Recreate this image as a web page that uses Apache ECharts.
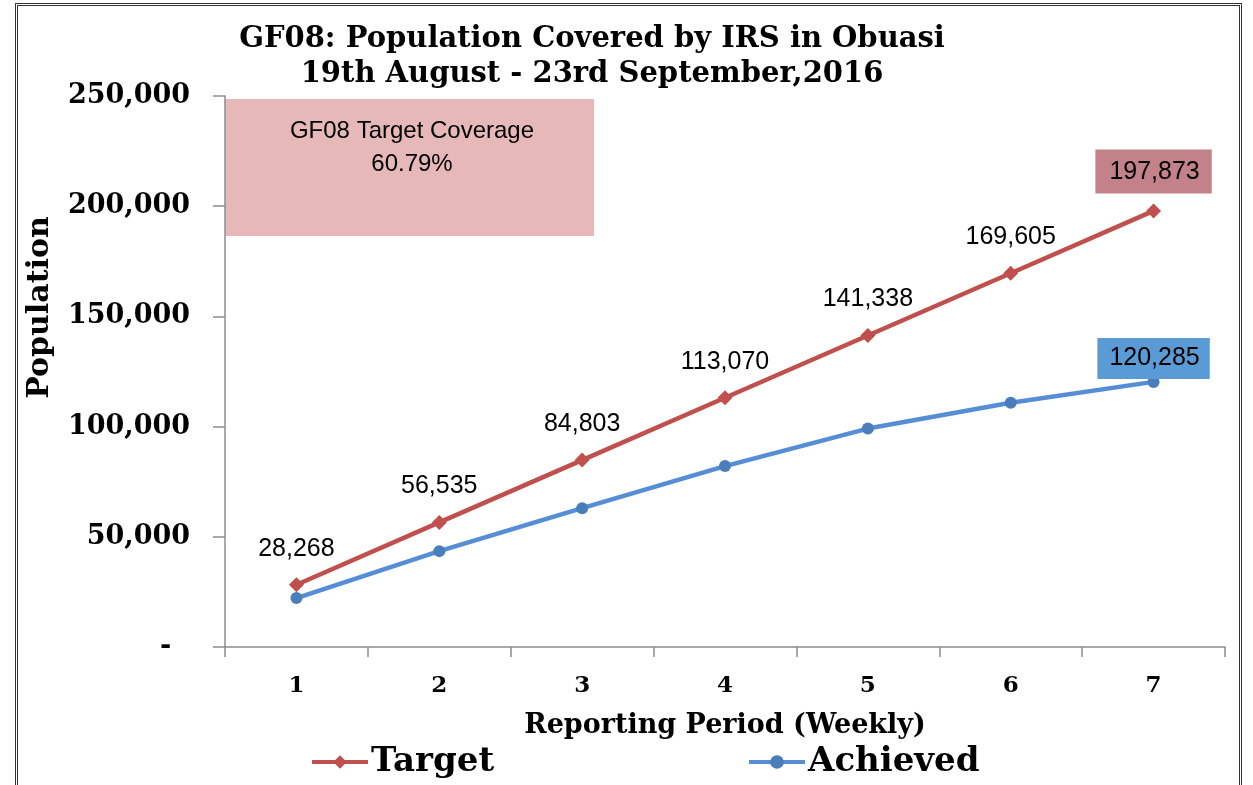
<!DOCTYPE html>
<html>
<head>
<meta charset="utf-8">
<script src="https://cdn.jsdelivr.net/npm/echarts@6/dist/echarts.min.js"></script>
<style>
  html, body { margin: 0; padding: 0; background: #fff; }
  #frame { position: absolute; left: 15px; top: 3px; width: 1221px; height: 800px; border: 3px double #333; }
  #main { position: absolute; left: 0; top: 0; width: 1253px; height: 785px; }
</style>
</head>
<body>
<div id="frame"></div>
<div id="main"></div>
<script>
// weekly reporting periods
var periods = ['1', '2', '3', '4', '5', '6', '7'];
var targetValues = [28268, 56535, 84803, 113070, 141338, 169605, 197873];
var achievedValues = [22200, 43500, 63000, 82100, 99100, 110800, 120285];
var yTicks = [0, 50000, 100000, 150000, 200000, 250000];
var coverageText = ['GF08 Target Coverage', '60.79%'];

var serif = 'DejaVu Serif';
var sans = 'Liberation Sans';

function fmt(v){
  return v.toString().replace(/\B(?=(\d{3})+(?!\d))/g, ',');
}

var chart = echarts.init(document.getElementById('main'));

var targetData = targetValues.map(function(v, i){
  var item = { value: v };
  if (i === targetValues.length - 1) {
    item.label = {
      backgroundColor: '#c3828a',
      padding: [10, 12, 9, 14],
      distance: 10
    };
  }
  return item;
});

var achievedData = achievedValues.map(function(v, i){
  var item = { value: v };
  if (i === achievedValues.length - 1) {
    item.label = {
      show: true,
      position: 'top',
      backgroundColor: '#5b9bd5',
      padding: [8, 10, 8, 12],
      distance: -3,
      color: '#000',
      fontFamily: sans,
      fontSize: 25,
      formatter: function(p){ return fmt(p.value); }
    };
  }
  return item;
});

var legendText = { fontFamily: serif, fontWeight: 'bold', fontSize: 34, color: '#000', padding: [0, 0, 0, -2] };

var option = {
  animation: false,
  title: {
    text: 'GF08: Population Covered by IRS in Obuasi\n19th August - 23rd September,2016',
    left: 587,
    top: 17,
    textAlign: 'center',
    textStyle: {
      fontFamily: serif,
      fontWeight: 'bold',
      fontSize: 29,
      lineHeight: 35,
      color: '#000'
    }
  },
  legend: [
    {
      data: ['Target'],
      left: 305,
      top: 740,
      itemWidth: 56,
      itemHeight: 17,
      lineStyle: { width: 4 },
      textStyle: legendText
    },
    {
      data: ['Achieved'],
      left: 742,
      top: 740,
      itemWidth: 56,
      itemHeight: 17,
      lineStyle: { width: 4 },
      textStyle: legendText
    }
  ],
  grid: { left: 225, right: 28, top: 96, bottom: 138 },
  xAxis: {
    type: 'category',
    data: periods,
    boundaryGap: true,
    name: 'Reporting Period (Weekly)',
    nameLocation: 'middle',
    nameGap: 65,
    nameTextStyle: { fontFamily: serif, fontWeight: 'bold', fontSize: 27, color: '#000' },
    axisLine: { lineStyle: { color: '#8c8c8c', width: 1.5 } },
    axisTick: { show: true, length: 10, lineStyle: { color: '#8c8c8c', width: 1.5 } },
    axisLabel: { margin: 28, fontFamily: serif, fontWeight: 'bold', fontSize: 23, color: '#000' },
    splitLine: { show: false }
  },
  yAxis: {
    type: 'value',
    min: yTicks[0],
    max: yTicks[yTicks.length - 1],
    interval: 50000,
    name: 'Population',
    nameLocation: 'middle',
    nameGap: 170,
    nameRotate: 90,
    nameTextStyle: { fontFamily: serif, fontWeight: 'bold', fontSize: 30, color: '#000', padding: [0, 0, 0, 128] },
    axisLine: { show: true, lineStyle: { color: '#8c8c8c', width: 1.5 } },
    axisTick: { show: true, length: 12, lineStyle: { color: '#8c8c8c', width: 1.5 } },
    axisLabel: {
      margin: 35,
      fontFamily: serif,
      fontWeight: 'bold',
      fontSize: 27,
      color: '#000',
      formatter: function(v){ return v === 0 ? '-  ' : fmt(v); }
    },
    splitLine: { show: false }
  },
  graphic: [
    {
      type: 'rect',
      left: 225,
      top: 99,
      shape: { width: 369, height: 137 },
      style: { fill: '#e6b8b7' },
      z: 0
    },
    {
      type: 'text',
      x: 412,
      y: 115,
      style: {
        text: coverageText.join('\n'),
        fontFamily: sans,
        fontSize: 24,
        lineHeight: 33,
        fill: '#000',
        align: 'center'
      },
      z: 1
    }
  ],
  series: [
    {
      name: 'Target',
      type: 'line',
      data: targetData,
      symbol: 'diamond',
      symbolSize: 15,
      lineStyle: { color: '#c0504d', width: 4.5 },
      itemStyle: { color: '#c0504d' },
      label: {
        show: true,
        position: 'top',
        distance: 16,
        color: '#000',
        fontFamily: sans,
        fontSize: 25,
        formatter: function(p){ return fmt(p.value); }
      },
      z: 3
    },
    {
      name: 'Achieved',
      type: 'line',
      data: achievedData,
      symbol: 'circle',
      symbolSize: 12,
      lineStyle: { color: '#558ed5', width: 4.5 },
      itemStyle: { color: '#4a7ebb' },
      label: { show: false },
      z: 3
    }
  ]
};

chart.setOption(option);
</script>
</body>
</html>
